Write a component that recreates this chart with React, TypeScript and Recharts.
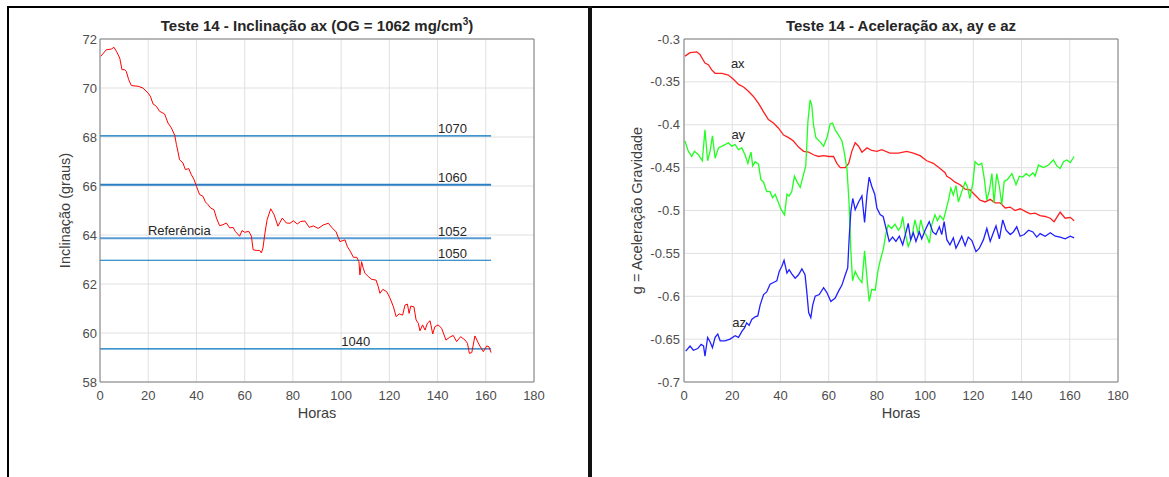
import { CartesianGrid, Line, LineChart, ReferenceDot, XAxis, YAxis } from 'recharts'

const FONT = '"Liberation Sans", Arial, Helvetica, sans-serif'
const AXIS = '#808080'
const GRID = '#e0e0e0'
const TICK = '#4d4d4d'
const TEXT = '#262626'

// eixos
const horasTicks = [0, 20, 40, 60, 80, 100, 120, 140, 160, 180]
const inclTicks = [58, 60, 62, 64, 66, 68, 70, 72]
const acelTicks = [-0.7, -0.65, -0.6, -0.55, -0.5, -0.45, -0.4, -0.35, -0.3]

// Teste 14 - inclinação ax (graus)
const inclHoras = [
  0.3, 2.6, 4.7, 5.8, 6.8, 8.2, 9.1, 10.2, 10.9, 11.9,
  13, 15.8, 17.8, 19.9, 20.9, 22, 23.4, 24.7, 26.8, 28.2,
  29.6, 31, 31.7, 32.3, 33, 34.4, 35.4, 36.8, 37.9, 39,
  40, 41.3, 42.7, 43.7, 44.8, 45.9, 47.3, 48.3, 49.6, 51,
  52.4, 53.8, 55.2, 56.1, 57.9, 58.9, 60, 61.7, 62.8, 63.5,
  64.8, 66.2, 66.9, 67.6, 68.3, 69.3, 70.8, 72.2, 73.8, 75.6,
  77.3, 78.8, 80.2, 81.8, 83.2, 85, 86.8, 88.5, 90.5, 92.6,
  94.7, 96.1, 97.9, 99.5, 101.6, 102.6, 103.7, 105.1, 106.5, 107.4,
  107.8, 108.5, 109.2, 109.9, 111.3, 112.7, 114.5, 115.4, 116.1, 117.3,
  118.9, 120.3, 121.7, 122.8, 124.1, 125.5, 126.5, 127.5, 128.2, 128.9,
  130.2, 131.1, 132, 132.7, 133.8, 134.8, 135.8, 136.9, 138, 138.9,
  140.3, 141.7, 143.5, 144.9, 146.5, 147.9, 149.6, 151.4, 152.4, 153.2,
  154.2, 155.5, 157.3, 159, 160.4, 161.3, 162.2,
]
const inclValores = [
  71.29, 71.56, 71.59, 71.66, 71.5, 71.22, 70.75, 70.75, 70.68, 70.34,
  70.1, 70.07, 70.0, 69.8, 69.66, 69.35, 69.25, 69.05, 68.94, 68.57,
  68.37, 68.07, 67.69, 67.42, 67.07, 66.94, 66.67, 66.71, 66.46, 66.26,
  65.99, 65.65, 65.58, 65.35, 65.24, 65.1, 65.03, 64.69, 64.38, 64.42,
  64.49, 64.29, 64.31, 64.15, 63.95, 64.18, 64.11, 64.15, 63.95, 63.4,
  63.37, 63.37, 63.27, 63.47, 64.01, 64.62, 65.07, 64.83, 64.36, 64.69,
  64.49, 64.48, 64.58, 64.45, 64.55, 64.57, 64.31, 64.37, 64.27, 64.41,
  64.48, 64.31, 64.13, 63.73, 63.8, 63.52, 63.35, 63.09, 63.09, 62.91,
  62.37, 62.91, 62.64, 62.44, 62.3, 62.19, 62.16, 61.89, 61.62, 61.78,
  61.69, 61.42, 61.07, 60.67, 60.78, 60.73, 61.14, 61.18, 60.8, 61.1,
  61.07, 60.53, 60.4, 60.09, 60.33, 60.12, 60.4, 60.5, 59.96, 60.26,
  60.33, 60.19, 59.71, 59.82, 59.9, 59.65, 59.85, 59.71, 59.58, 59.17,
  59.2, 59.88, 59.51, 59.24, 59.47, 59.44, 59.2,
]

// níveis de OG (mg/cm3) -> inclinação equivalente
const nivelHoras = [0, 162.2]
const niveisOG = ['1070', '1060', '1052', '1050', '1040']
const niveisIncl = [68.05, 66.05, 63.87, 62.97, 59.35]
const niveisLargura = [1.2, 2, 2, 1.2, 1.2]
const niveisCor = ['#0072bd', '#2a7fc4', '#5a9bd4', '#0072bd', '#0072bd']

// rótulos de texto do gráfico da esquerda
const rotulosTexto = ['1070', '1060', '1052', '1050', '1040', 'Referência']
const rotulosHoras = [146.2, 146.2, 146.2, 146.2, 106.1, 32.9]
const rotulosIncl = [68.37, 66.34, 64.16, 63.27, 59.64, 64.18]

// Teste 14 - aceleração (g)
const axHoras = [
  0.4, 2.5, 5.3, 6.6, 8.7, 10.1, 11.5, 12.9, 15.7, 18.4,
  20.5, 22.6, 24.7, 26.7, 28.8, 30.9, 33, 35, 37.1, 39.2,
  41.3, 43.4, 45.4, 47.5, 49.6, 51.7, 53.7, 55.8, 57.9, 60,
  62, 63.4, 64.8, 66.9, 68.3, 69.6, 71, 72.4, 73.8, 75.9,
  77.9, 80, 82, 85.4, 88.9, 92.4, 95.1, 97.9, 100.7, 103.4,
  106.2, 108.3, 109, 110.3, 112.4, 114.5, 116.6, 118.6, 120.7, 122.8,
  124.9, 127, 129, 131.1, 133.2, 135.3, 137.3, 139.4, 141.5, 143.6,
  145.6, 147.7, 149.8, 151.9, 153.5, 156, 158.1, 160.2, 161.8,
]
const axValores = [
  -0.32, -0.316, -0.315, -0.318, -0.328, -0.33, -0.336, -0.34, -0.34, -0.342,
  -0.347, -0.353, -0.356, -0.361, -0.367, -0.375, -0.385, -0.394, -0.398, -0.404,
  -0.412, -0.415, -0.419, -0.426, -0.431, -0.432, -0.435, -0.437, -0.436, -0.437,
  -0.437, -0.445, -0.45, -0.45, -0.445, -0.431, -0.421, -0.425, -0.432, -0.427,
  -0.43, -0.431, -0.429, -0.433, -0.433, -0.431, -0.433, -0.436, -0.442, -0.445,
  -0.451, -0.456, -0.46, -0.462, -0.467, -0.47, -0.475, -0.476, -0.482, -0.488,
  -0.49, -0.487, -0.491, -0.491, -0.497, -0.496, -0.5, -0.498, -0.501, -0.504,
  -0.503, -0.506, -0.507, -0.509, -0.513, -0.502, -0.509, -0.508, -0.512,
]

const ayHoras = [
  0.4, 1.8, 3.2, 4.3, 6, 7.6, 8.7, 9.8, 10.8, 11.8,
  12.9, 14.3, 16.4, 18.4, 19.8, 21.2, 22.6, 24, 25.3, 26.5,
  27.2, 27.8, 28.5, 29.5, 30.9, 31.9, 33, 34.3, 35.7, 36.7,
  37.8, 38.9, 40.3, 41.7, 42.7, 43.6, 44.7, 45.8, 46.8, 48.2,
  49.2, 50.5, 51.4, 52.3, 53, 53.7, 54.7, 56.5, 57.9, 59.3,
  60.6, 61.6, 62.7, 64.1, 65.5, 66.4, 67.6, 68.5, 69.2, 69.9,
  71, 72.4, 73.8, 74.9, 75.9, 76.8, 77.9, 79.3, 80.4, 81.4,
  82.6, 83.8, 84.7, 86.1, 87.5, 88.9, 89.9, 90.7, 91.7, 93,
  94.4, 95.8, 97.2, 98.2, 99.3, 100.7, 101.8, 102.7, 104.1, 105.1,
  106.2, 107.6, 108.7, 109.7, 110.7, 111.7, 112.8, 113.8, 115.2, 116.6,
  117.5, 118.6, 119.8, 120.7, 122.1, 123.5, 124.5, 125.6, 126.7, 127.7,
  128.6, 129.7, 130.8, 131.8, 132.8, 134.1, 136, 137.7, 139.1, 140.5,
  141.9, 143.3, 144.7, 145.6, 147, 149.1, 151.2, 153.2, 154.6, 156,
  157.4, 158.8, 160.2, 161.8,
]
const ayValores = [
  -0.419, -0.431, -0.437, -0.431, -0.435, -0.442, -0.406, -0.442, -0.431, -0.413,
  -0.439, -0.427, -0.424, -0.421, -0.425, -0.423, -0.429, -0.427, -0.435, -0.445,
  -0.437, -0.432, -0.448, -0.443, -0.446, -0.464, -0.467, -0.478, -0.478, -0.485,
  -0.481, -0.489, -0.499, -0.505, -0.481, -0.483, -0.478, -0.46, -0.466, -0.473,
  -0.462, -0.448, -0.396, -0.371, -0.377, -0.4, -0.415, -0.42, -0.425, -0.415,
  -0.399, -0.398, -0.406, -0.412, -0.419, -0.431, -0.452, -0.493, -0.547, -0.582,
  -0.571, -0.579, -0.584, -0.547, -0.579, -0.606, -0.592, -0.593, -0.571, -0.558,
  -0.546, -0.526, -0.517, -0.521, -0.516, -0.523, -0.519, -0.507, -0.526, -0.542,
  -0.532, -0.511, -0.528, -0.511, -0.523, -0.53, -0.538, -0.517, -0.505, -0.512,
  -0.506, -0.511, -0.499, -0.488, -0.474, -0.482, -0.471, -0.49, -0.478, -0.467,
  -0.472, -0.486, -0.468, -0.443, -0.447, -0.445, -0.462, -0.488, -0.476, -0.457,
  -0.491, -0.457, -0.472, -0.493, -0.466, -0.464, -0.457, -0.47, -0.46, -0.461,
  -0.457, -0.46, -0.456, -0.46, -0.447, -0.45, -0.447, -0.441, -0.448, -0.451,
  -0.443, -0.441, -0.444, -0.437,
]

const azHoras = [
  0.7, 2.5, 3.9, 5.7, 7.1, 8.1, 8.7, 9.8, 10.8, 11.8,
  12.9, 14, 15, 17, 19.1, 21.2, 22.6, 24, 25.1, 26,
  27, 28.1, 29.5, 30.6, 31.6, 33, 34.3, 35.7, 37.1, 38.5,
  39.5, 40.6, 41.5, 42.7, 43.6, 44.7, 46.1, 47.5, 48.9, 50.2,
  50.9, 51.7, 52.6, 53.4, 54.4, 56.1, 57.9, 59.3, 60.9, 62.7,
  64.1, 65.5, 66.9, 67.9, 68.5, 69.2, 70, 71, 72.4, 73.8,
  74.9, 75.9, 76.8, 77.9, 79.1, 80, 81.4, 82.6, 84, 85.1,
  86.5, 87.9, 89.3, 90.7, 92.1, 93, 94, 95.1, 96.2, 97.6,
  98.6, 100, 101.7, 103.2, 104.5, 105.9, 106.9, 107.9, 109, 110.3,
  111.7, 112.8, 114.2, 115.2, 116.6, 117.9, 119.4, 121.1, 122.5, 124.2,
  125.6, 127, 128.3, 129.4, 130.8, 132.2, 133.6, 135.3, 136.6, 138,
  139.4, 141.1, 142.9, 144.7, 146.3, 147.7, 149.8, 151.9, 154, 156,
  158.1, 160.2, 161.8,
]
const azValores = [
  -0.664, -0.658, -0.663, -0.661, -0.656, -0.658, -0.67, -0.648, -0.653, -0.66,
  -0.648, -0.644, -0.652, -0.652, -0.65, -0.646, -0.648, -0.641, -0.637, -0.631,
  -0.634, -0.627, -0.624, -0.623, -0.61, -0.598, -0.595, -0.586, -0.584, -0.582,
  -0.571, -0.565, -0.558, -0.573, -0.569, -0.574, -0.579, -0.575, -0.568, -0.575,
  -0.594, -0.619, -0.625, -0.61, -0.6, -0.598, -0.59, -0.596, -0.606, -0.602,
  -0.594, -0.587, -0.575, -0.567, -0.532, -0.501, -0.486, -0.499, -0.49, -0.483,
  -0.514, -0.481, -0.461, -0.472, -0.481, -0.497, -0.505, -0.507, -0.523, -0.536,
  -0.531, -0.536, -0.53, -0.54, -0.525, -0.515, -0.534, -0.526, -0.536, -0.525,
  -0.533, -0.523, -0.513, -0.525, -0.528, -0.519, -0.528, -0.513, -0.534, -0.54,
  -0.532, -0.544, -0.536, -0.53, -0.541, -0.531, -0.535, -0.548, -0.544, -0.534,
  -0.521, -0.536, -0.526, -0.518, -0.533, -0.511, -0.523, -0.528, -0.525, -0.519,
  -0.53, -0.528, -0.523, -0.525, -0.531, -0.527, -0.53, -0.526, -0.53, -0.531,
  -0.533, -0.53, -0.532,
]

const acelRotulos = ['ax', 'ay', 'az']
const acelRotHoras = [22.3, 22.5, 22.9]
const acelRotValores = [-0.3287, -0.4107, -0.6304]

const zip = (h: number[], v: number[]) => h.map((x, i) => ({ h: x, v: v[i] }))

const tickStyle = { fontSize: 13, fill: TICK, fontFamily: FONT }

// caixa estilo MATLAB: ticks para dentro nos quatro lados
function caixa(xTicks: number[], yTicks: number[], yDomain: [number, number]) {
  return [
    <XAxis
      key="xt"
      xAxisId="top"
      orientation="top"
      mirror
      type="number"
      domain={[0, 180]}
      allowDataOverflow
      ticks={xTicks}
      interval={0}
      tick={false}
      tickSize={4}
      tickLine={{ stroke: AXIS }}
      axisLine={{ stroke: AXIS }}
    />,
    <XAxis
      key="xb"
      xAxisId="bin"
      orientation="bottom"
      mirror
      type="number"
      domain={[0, 180]}
      allowDataOverflow
      ticks={xTicks}
      interval={0}
      tick={false}
      tickSize={4}
      tickLine={{ stroke: AXIS }}
      axisLine={false}
    />,
    <YAxis
      key="yr"
      yAxisId="right"
      orientation="right"
      mirror
      type="number"
      domain={yDomain}
      allowDataOverflow
      ticks={yTicks}
      interval={0}
      tick={false}
      tickSize={4}
      tickLine={{ stroke: AXIS }}
      axisLine={{ stroke: AXIS }}
    />,
    <YAxis
      key="yl"
      yAxisId="lin"
      orientation="left"
      mirror
      type="number"
      domain={yDomain}
      allowDataOverflow
      ticks={yTicks}
      interval={0}
      tick={false}
      tickSize={4}
      tickLine={{ stroke: AXIS }}
      axisLine={false}
    />,
  ]
}

function InclinacaoChart() {
  return (
    <LineChart width={590} height={477} margin={{ top: 39, right: 56, bottom: 69, left: 60 }}>
      <CartesianGrid stroke={GRID} />
      <XAxis
        dataKey="h"
        type="number"
        domain={[0, 180]}
        allowDataOverflow
        ticks={horasTicks}
        interval={0}
        height={26}
        tickSize={0}
        tickMargin={9}
        tickLine={false}
        axisLine={{ stroke: AXIS }}
        tick={tickStyle}
        label={{ value: 'Horas', position: 'bottom', offset: 0, fill: '#404040', fontSize: 14.5, fontFamily: FONT }}
      />
      <YAxis
        type="number"
        domain={[58, 72]}
        allowDataOverflow
        ticks={inclTicks}
        interval={0}
        width={40}
        tickSize={0}
        tickMargin={3}
        tickLine={false}
        axisLine={{ stroke: AXIS }}
        tick={tickStyle}
        label={{
          value: 'Inclinação (graus)',
          angle: -90,
          position: 'insideLeft',
          offset: 5,
          style: { textAnchor: 'middle', fill: '#404040', fontSize: 14.5, fontFamily: FONT },
        }}
      />
      {caixa(horasTicks, inclTicks, [58, 72])}
      {niveisOG.map((og, i) => (
        <Line
          key={og}
          data={zip(nivelHoras, [niveisIncl[i], niveisIncl[i]])}
          dataKey="v"
          stroke={niveisCor[i]}
          strokeWidth={niveisLargura[i]}
          dot={false}
          isAnimationActive={false}
        />
      ))}
      <Line
        data={zip(inclHoras, inclValores)}
        dataKey="v"
        stroke="#ff0000"
        strokeWidth={1}
        dot={false}
        isAnimationActive={false}
      />
      {rotulosTexto.map((t, i) => (
        <ReferenceDot
          key={t}
          x={rotulosHoras[i]}
          y={rotulosIncl[i]}
          r={0}
          fill="none"
          stroke="none"
          label={{ value: t, position: 'center', fill: TEXT, fontSize: 13, fontFamily: FONT }}
        />
      ))}
    </LineChart>
  )
}

function AceleracaoChart() {
  return (
    <LineChart width={579} height={477} margin={{ top: 39, right: 51, bottom: 69, left: 44 }}>
      <CartesianGrid stroke={GRID} />
      <XAxis
        dataKey="h"
        type="number"
        domain={[0, 180]}
        allowDataOverflow
        ticks={horasTicks}
        interval={0}
        height={26}
        tickSize={0}
        tickMargin={9}
        tickLine={false}
        axisLine={{ stroke: AXIS }}
        tick={tickStyle}
        label={{ value: 'Horas', position: 'bottom', offset: 0, fill: '#404040', fontSize: 14.5, fontFamily: FONT }}
      />
      <YAxis
        type="number"
        domain={[-0.7, -0.3]}
        allowDataOverflow
        ticks={acelTicks}
        interval={0}
        width={50}
        tickSize={0}
        tickMargin={4}
        tickLine={false}
        axisLine={{ stroke: AXIS }}
        tick={tickStyle}
        tickFormatter={(v: number) => String(v)}
        label={{
          value: 'g = Aceleração Gravidade',
          angle: -90,
          position: 'insideLeft',
          offset: 3,
          style: { textAnchor: 'middle', fill: '#404040', fontSize: 14.5, fontFamily: FONT },
        }}
      />
      {caixa(horasTicks, acelTicks, [-0.7, -0.3])}
      <Line
        data={zip(axHoras, axValores)}
        dataKey="v"
        stroke="#ff2020"
        strokeWidth={1.3}
        dot={false}
        isAnimationActive={false}
      />
      <Line
        data={zip(ayHoras, ayValores)}
        dataKey="v"
        stroke="#20ff20"
        strokeWidth={1.3}
        dot={false}
        isAnimationActive={false}
      />
      <Line
        data={zip(azHoras, azValores)}
        dataKey="v"
        stroke="#2020ff"
        strokeWidth={1.3}
        dot={false}
        isAnimationActive={false}
      />
      {acelRotulos.map((t, i) => (
        <ReferenceDot
          key={t}
          x={acelRotHoras[i]}
          y={acelRotValores[i]}
          r={0}
          fill="none"
          stroke="none"
          label={{ value: t, position: 'center', fill: TEXT, fontSize: 13, fontFamily: FONT }}
        />
      ))}
    </LineChart>
  )
}

const titleStyle = {
  position: 'absolute' as const,
  top: 18,
  fontSize: 15,
  lineHeight: '15px',
  fontWeight: 700,
  color: TEXT,
  textAlign: 'center' as const,
  whiteSpace: 'nowrap' as const,
}

export default function App() {
  return (
    <div
      style={{
        position: 'fixed',
        left: 0,
        top: 0,
        width: 1169,
        height: 477,
        background: '#fff',
        fontFamily: FONT,
        overflow: 'hidden',
      }}
    >
      {/* bordas da tabela */}
      <div style={{ position: 'absolute', left: 7, top: 6, width: 1162, height: 2, background: '#000' }} />
      <div style={{ position: 'absolute', left: 7, top: 6, width: 2, height: 471, background: '#000' }} />
      <div style={{ position: 'absolute', left: 588, top: 6, width: 4, height: 471, background: '#111' }} />

      <div style={{ ...titleStyle, left: 100, width: 434 }}>
        Teste 14 - Inclinação ax (OG = 1062 mg/cm
        <span style={{ fontSize: 10, position: 'relative', top: -6 }}>3</span>)
      </div>
      <div style={{ ...titleStyle, left: 684, width: 434 }}>Teste 14 - Aceleração ax, ay e az</div>

      <div style={{ position: 'absolute', left: 0, top: 0 }}>
        <InclinacaoChart />
      </div>
      <div style={{ position: 'absolute', left: 590, top: 0 }}>
        <AceleracaoChart />
      </div>
    </div>
  )
}
